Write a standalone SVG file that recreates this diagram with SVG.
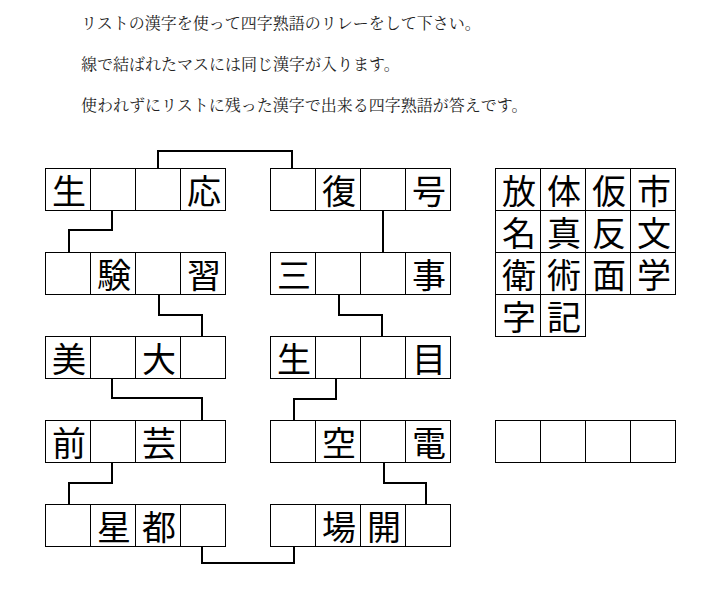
<svg xmlns="http://www.w3.org/2000/svg" width="721" height="589" viewBox="0 0 721 589">
<style>
.bg{fill:#ffffff}
.cell{fill:#ffffff;stroke:#000000;stroke-width:1}
.k{font-family:"Noto Sans CJK JP","Noto Sans CJK SC",sans-serif;font-size:34px;fill:#000000;text-anchor:middle}
.inst{font-family:"Noto Serif CJK JP","Noto Sans CJK JP","Noto Sans CJK SC",serif;font-size:16px;fill:#222222}
.conn{fill:none;stroke:#000000;stroke-width:2}
</style>
<defs>
<g id="box4">
<rect class="cell" x="0" y="0" width="45" height="42"/>
<rect class="cell" x="45" y="0" width="45" height="42"/>
<rect class="cell" x="90" y="0" width="45" height="42"/>
<rect class="cell" x="135" y="0" width="45" height="42"/>
</g>
</defs>
<rect class="bg" x="0" y="0" width="721" height="589"/>
<g id="instructions">
<text class="inst" x="81" y="29">リストの漢字を使って四字熟語のリレーをして下さい。</text>
<text class="inst" x="81" y="70">線で結ばれたマスには同じ漢字が入ります。</text>
<text class="inst" x="81" y="111">使われずにリストに残った漢字で出来る四字熟語が答えです。</text>
</g>
<g id="connectors">
<path class="conn" d="M158,168 V151 H292 V168"/>
<path class="conn" d="M112,210 V230 H69 V252"/>
<path class="conn" d="M383,210 V252"/>
<path class="conn" d="M159,294 V315 H202 V336"/>
<path class="conn" d="M339,294 V315 H382 V336"/>
<path class="conn" d="M112,378 V398 H202 V420"/>
<path class="conn" d="M336,378 V399 H294 V420"/>
<path class="conn" d="M112,462 V483 H69 V504"/>
<path class="conn" d="M384,462 V483 H426 V504"/>
<path class="conn" d="M202,546 V563 H294 V546"/>
</g>
<g id="word-L1">
<use href="#box4" x="45.5" y="168.5"/>
<text class="k" x="69" y="204">生</text>
<text class="k" x="204" y="204">応</text>
</g>
<g id="word-R1">
<use href="#box4" x="270.5" y="168.5"/>
<text class="k" x="339" y="204">復</text>
<text class="k" x="429" y="204">号</text>
</g>
<g id="word-L2">
<use href="#box4" x="45.5" y="252.5"/>
<text class="k" x="114" y="288">験</text>
<text class="k" x="204" y="288">習</text>
</g>
<g id="word-R2">
<use href="#box4" x="270.5" y="252.5"/>
<text class="k" x="294" y="288">三</text>
<text class="k" x="429" y="288">事</text>
</g>
<g id="word-L3">
<use href="#box4" x="45.5" y="336.5"/>
<text class="k" x="69" y="372">美</text>
<text class="k" x="159" y="372">大</text>
</g>
<g id="word-R3">
<use href="#box4" x="270.5" y="336.5"/>
<text class="k" x="294" y="372">生</text>
<text class="k" x="429" y="372">目</text>
</g>
<g id="word-L4">
<use href="#box4" x="45.5" y="420.5"/>
<text class="k" x="69" y="456">前</text>
<text class="k" x="159" y="456">芸</text>
</g>
<g id="word-R4">
<use href="#box4" x="270.5" y="420.5"/>
<text class="k" x="339" y="456">空</text>
<text class="k" x="429" y="456">電</text>
</g>
<g id="word-L5">
<use href="#box4" x="45.5" y="504.5"/>
<text class="k" x="114" y="540">星</text>
<text class="k" x="159" y="540">都</text>
</g>
<g id="word-R5">
<use href="#box4" x="270.5" y="504.5"/>
<text class="k" x="339" y="540">場</text>
<text class="k" x="384" y="540">開</text>
</g>
<g id="kanji-list">
<use href="#box4" x="495.5" y="168.5"/>
<use href="#box4" x="495.5" y="210.5"/>
<use href="#box4" x="495.5" y="252.5"/>
<rect class="cell" x="495.5" y="294.5" width="45" height="42"/>
<rect class="cell" x="540.5" y="294.5" width="45" height="42"/>
<text class="k" x="519" y="204">放</text>
<text class="k" x="564" y="204">体</text>
<text class="k" x="609" y="204">仮</text>
<text class="k" x="654" y="204">市</text>
<text class="k" x="519" y="246">名</text>
<text class="k" x="564" y="246">真</text>
<text class="k" x="609" y="246">反</text>
<text class="k" x="654" y="246">文</text>
<text class="k" x="519" y="288">衛</text>
<text class="k" x="564" y="288">術</text>
<text class="k" x="609" y="288">面</text>
<text class="k" x="654" y="288">学</text>
<text class="k" x="519" y="330">字</text>
<text class="k" x="564" y="330">記</text>
</g>
<g id="answer">
<use href="#box4" x="495.5" y="420.5"/>
</g>
</svg>
